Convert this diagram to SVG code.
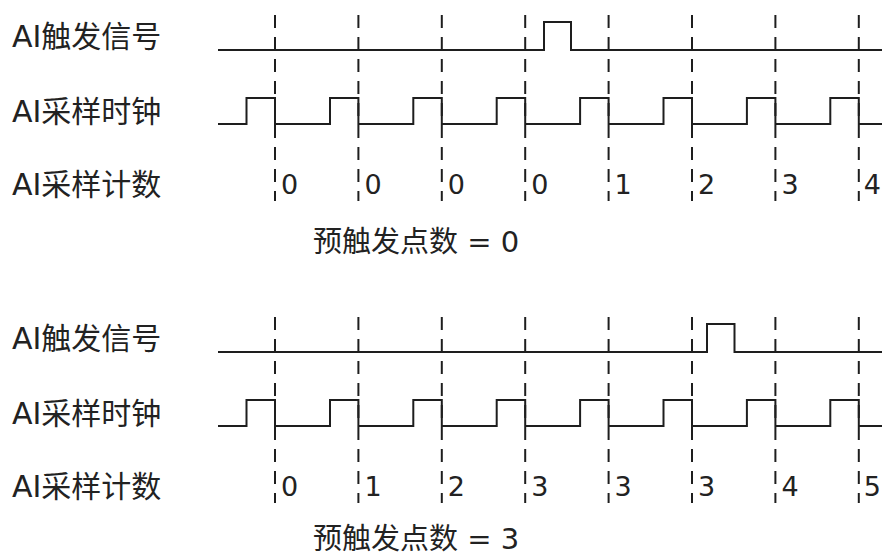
<svg xmlns="http://www.w3.org/2000/svg" width="882" height="558" viewBox="0 0 882 558">
<defs>
<style>
.sig{fill:none;stroke:#1e1e1e;stroke-width:2}
.dash{fill:none;stroke:#1e1e1e;stroke-width:2;stroke-dasharray:13 9}
text{font-family:'DejaVu Sans','Noto Sans CJK SC',sans-serif;font-size:30px;fill:#222}
.num{font-size:27px}
.ttl{font-size:29px}
</style>
<g id="panel-grid">
<path class="dash" d="M275,15V201M358.4,15V201M441.8,15V201M525.2,15V201M608.6,15V201M692,15V201M775.4,15V201M858.8,15V201"/>
</g>
<path id="clock" class="sig" d="M218,124H246.5V98H275V124H330V98H358.4V124H413.3V98H441.8V124H496.7V98H525.2V124H580.1V98H608.6V124H663.5V98H692V124H746.9V98H775.4V124H830.3V98H858.8V124H882"/>
</defs>
<g id="panel1">
<g id="labels1">
<text x="12" y="46.5">AI触发信号</text>
<text x="12" y="121.5">AI采样时钟</text>
<text x="12" y="194.5">AI采样计数</text>
</g>
<g id="connectors1">
<use href="#panel-grid"/>
<path id="trigger1" class="sig" d="M218,50H544V22H571V50H882"/>
<use href="#clock"/>
</g>
<g id="counts1">
<text class="num" x="281" y="194">0</text>
<text class="num" x="364.4" y="194">0</text>
<text class="num" x="447.8" y="194">0</text>
<text class="num" x="531.2" y="194">0</text>
<text class="num" x="614.6" y="194">1</text>
<text class="num" x="698" y="194">2</text>
<text class="num" x="781.4" y="194">3</text>
<text class="num" x="863.8" y="194">4</text>
</g>
<text id="title1" class="ttl" x="313" y="252">预触发点数 = 0</text>
</g>
<g id="panel2" transform="translate(0,302)">
<g id="labels2">
<text x="12" y="46.5">AI触发信号</text>
<text x="12" y="121.5">AI采样时钟</text>
<text x="12" y="194.5">AI采样计数</text>
</g>
<g id="connectors2">
<use href="#panel-grid"/>
<path id="trigger2" class="sig" d="M218,50H707V22H734.5V50H882"/>
<use href="#clock"/>
</g>
<g id="counts2">
<text class="num" x="281" y="194">0</text>
<text class="num" x="364.4" y="194">1</text>
<text class="num" x="447.8" y="194">2</text>
<text class="num" x="531.2" y="194">3</text>
<text class="num" x="614.6" y="194">3</text>
<text class="num" x="698" y="194">3</text>
<text class="num" x="781.4" y="194">4</text>
<text class="num" x="863.8" y="194">5</text>
</g>
<text id="title2" class="ttl" x="313" y="247">预触发点数 = 3</text>
</g>
</svg>
